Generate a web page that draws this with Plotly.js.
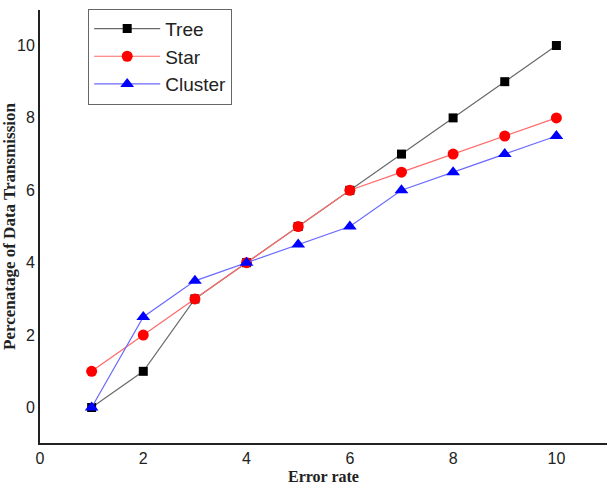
<!DOCTYPE html>
<html>
<head>
<meta charset="utf-8">
<script src="https://cdn.plot.ly/plotly-3.0.1.min.js"></script>
<style>html,body{margin:0;padding:0;background:#fff;}#chart{width:607px;height:485px;}</style>
</head>
<body>
<div id="chart"></div>
<script>
const errorRate = [1, 2, 3, 4, 5, 6, 7, 8, 9, 10];
const tree = [0, 1, 3, 4, 5, 6, 7, 8, 9, 10];
const star = [1, 2, 3, 4, 5, 6, 6.5, 7, 7.5, 8];
const cluster = [0, 2.5, 3.5, 4, 4.5, 5, 6, 6.5, 7, 7.5];
const seriesNames = ['Tree', 'Star', 'Cluster'];
const xTicks = [0, 2, 4, 6, 8, 10];
const yTicks = [0, 2, 4, 6, 8, 10];

const traces = [
  {x: errorRate, y: tree, name: seriesNames[0], mode: 'lines+markers', type: 'scatter',
   line: {color: '#6a6a6a', width: 1.2}, marker: {symbol: 'square', size: 9, color: '#000'}},
  {x: errorRate, y: star, name: seriesNames[1], mode: 'lines+markers', type: 'scatter',
   line: {color: '#ff6a6a', width: 1.2}, marker: {symbol: 'circle', size: 11, color: '#ff0000'}},
  {x: errorRate, y: cluster, name: seriesNames[2], mode: 'lines+markers', type: 'scatter',
   line: {color: '#6a6aff', width: 1.2}, marker: {symbol: 'triangle-up', size: 12, color: '#0000ff'}}
];

const layout = {
  width: 607, height: 485,
  margin: {l: 40, r: 0, t: 10, b: 42},
  paper_bgcolor: '#fff', plot_bgcolor: '#fff',
  showlegend: true,
  legend: {x: 0.085, y: 1.003, xanchor: 'left', yanchor: 'top',
    bordercolor: '#666', borderwidth: 1, bgcolor: '#fff',
    font: {family: 'Liberation Sans, Arial, sans-serif', size: 19, color: '#222'},
    itemwidth: 66, tracegroupgap: 0},
  xaxis: {range: [0, 10.98], tickvals: xTicks, ticktext: xTicks.map(String),
    showgrid: false, zeroline: false, showline: true, linecolor: '#222', linewidth: 2,
    ticks: '', tickfont: {family: 'Liberation Sans, Arial, sans-serif', size: 16, color: '#222'},
    title: {text: 'Error rate', standoff: 6,
      font: {family: 'Liberation Serif, Times New Roman, serif', size: 16, color: '#222', weight: 'bold'}}},
  yaxis: {range: [-0.98, 10.98], tickvals: yTicks, ticktext: yTicks.map(String),
    showgrid: false, zeroline: false, showline: true, linecolor: '#222', linewidth: 2,
    ticks: '', tickfont: {family: 'Liberation Sans, Arial, sans-serif', size: 16, color: '#222'},
    title: {text: 'Percenatage of Data Transmission', standoff: 2,
      font: {family: 'Liberation Serif, Times New Roman, serif', size: 17, color: '#222', weight: 'bold'}}}
};

Plotly.newPlot('chart', traces, layout, {displayModeBar: false, staticPlot: true});
</script>
</body>
</html>
